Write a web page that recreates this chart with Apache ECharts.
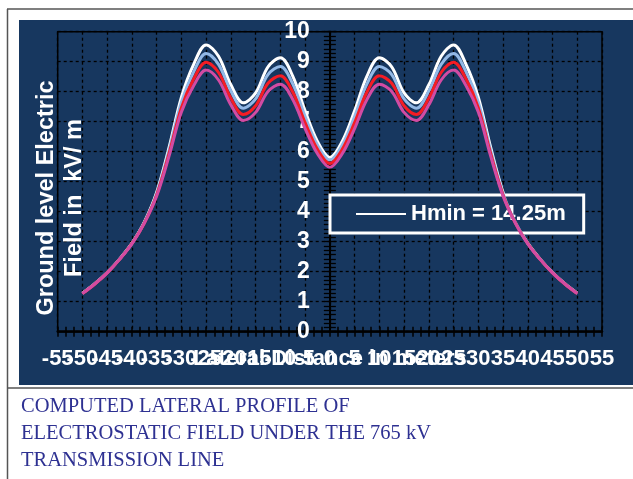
<!DOCTYPE html>
<html>
<head>
<meta charset="utf-8">
<script src="https://cdn.jsdelivr.net/npm/echarts@6/dist/echarts.min.js"></script>
<style>
html,body{margin:0;padding:0;background:#fff;}
#chart{width:633px;height:479px;}
</style>
</head>
<body>
<div id="chart"></div>
<script>
// Lateral distance (m)
const distance = [-50,-47.5,-45,-42.5,-40,-37.5,-35,-32.5,-30,-27.5,-25,-22.5,-20,-17.5,-15,-12.5,-10,-7.5,-5,-2.5,0,
  2.5,5,7.5,10,12.5,15,17.5,20,22.5,25,27.5,30,32.5,35,37.5,40,42.5,45,47.5,50];
// Ground level electric field (kV/m)
const fieldWhite = [1.28,1.6,1.97,2.42,2.95,3.65,4.65,6.14,7.82,8.92,9.56,9.18,8.23,7.63,7.96,8.83,9.13,8.52,7.36,6.34,5.81,
  6.34,7.36,8.52,9.13,8.83,7.96,7.63,8.23,9.18,9.56,8.92,7.82,6.14,4.65,3.65,2.95,2.42,1.97,1.6,1.28];
const fieldLightBlue = [1.28,1.6,1.97,2.42,2.94,3.64,4.61,6.04,7.65,8.67,9.27,8.91,8.02,7.45,7.76,8.57,8.84,8.26,7.17,6.22,5.72,
  6.22,7.17,8.26,8.84,8.57,7.76,7.45,8.02,8.91,9.27,8.67,7.65,6.04,4.61,3.64,2.94,2.42,1.97,1.6,1.28];
const fieldRed = [1.27,1.59,1.96,2.41,2.94,3.62,4.56,5.94,7.47,8.43,8.98,8.64,7.78,7.24,7.53,8.28,8.53,7.99,6.97,6.08,5.61,
  6.08,6.97,7.99,8.53,8.28,7.53,7.24,7.78,8.64,8.98,8.43,7.47,5.94,4.56,3.62,2.94,2.41,1.96,1.59,1.27];
const fieldMagenta = [1.27,1.59,1.96,2.41,2.93,3.61,4.52,5.85,7.32,8.21,8.72,8.39,7.56,7.04,7.31,8.01,8.25,7.74,6.77,5.93,5.48,
  5.93,6.77,7.74,8.25,8.01,7.31,7.04,7.56,8.39,8.72,8.21,7.32,5.85,4.52,3.61,2.93,2.41,1.96,1.59,1.27];
const seriesNames = ['Hmin = 14.25m','Series 2','Series 3','Series 4'];
const seriesColors = ['#ffffff','#92b8e6','#f51c24','#d24ba3'];
const captionLines = ['COMPUTED LATERAL PROFILE OF','ELECTROSTATIC FIELD UNDER THE 765 kV','TRANSMISSION LINE'];
const yAxisTitle = 'Ground level Electric\nField in  kV/ m';
const xAxisTitle = 'Lateral Distance in meters';

const BLUE = '#17375f';
const labelFont = {color:'#fff', fontSize:22, fontWeight:'bold', fontFamily:'Liberation Sans'};
const allData = [fieldWhite, fieldLightBlue, fieldRed, fieldMagenta];

const GL = 57.7, GR = 31, GT = 31.7, GB = 147.3;
const PX_PER_M = (633 - GL - GR) / 110;
const Y_OFFSET = -55 * PX_PER_M; // move y axis from grid left to x = 0

const chart = echarts.init(document.getElementById('chart'), null, {renderer:'canvas'});
const tickStyle = {color:'#000', width:1.5};
const hiddenAxisParts = {axisLine:{show:false, onZero:false}, axisTick:{show:false}, minorTick:{show:false}, splitLine:{show:false}};
chart.setOption({
  animation:false,
  backgroundColor:'#ffffff',
  grid:[
    {left:GL, right:GR, top:GT, bottom:GB, show:true, borderColor:'#000', borderWidth:1.5, backgroundColor:'transparent'},
    {left:GL + 5*PX_PER_M, right:GR + 5*PX_PER_M, top:GT, bottom:GB, show:false}
  ],
  graphic:[
    {type:'rect', z:-10, shape:{x:19, y:20, width:614, height:365}, style:{fill:BLUE}},
    {type:'line', z:-9, shape:{x1:7, y1:9, x2:633, y2:9}, style:{stroke:'#555', lineWidth:1.5}},
    {type:'line', z:-9, shape:{x1:7.5, y1:9, x2:7.5, y2:479}, style:{stroke:'#555', lineWidth:1.5}},
    {type:'line', z:-9, shape:{x1:7, y1:388, x2:633, y2:388}, style:{stroke:'#555', lineWidth:1.5}},
    {type:'text', z:5, x:61, y:198, rotation:Math.PI/2,
      style:{text:yAxisTitle, fill:'#fff', font:'bold 23.5px "Liberation Sans"', align:'center', verticalAlign:'middle', lineHeight:28}},
    ...captionLines.map((t,i)=>({type:'text', z:5, x:21, y:407+i*27,
      style:{text:t, fill:'#2e3192', font:'20.5px "Liberation Serif"', align:'left', verticalAlign:'middle'}}))
  ],
  legend:{
    data:[seriesNames[0]], left:330, top:195, orient:'horizontal',
    backgroundColor:BLUE, borderColor:'#fff', borderWidth:3, borderRadius:0,
    padding:[8,18,8,26], itemWidth:50, itemHeight:2, icon:'rect',
    textStyle:labelFont
  },
  xAxis:[
    { // main axis: line, ticks, grid lines, name
      gridIndex:0, type:'value', min:-55, max:55, interval:5,
      name:xAxisTitle, nameLocation:'middle', nameGap:16, nameMoveOverlap:false, nameTextStyle:labelFont,
      axisLine:{onZero:false, lineStyle:{color:'#000', width:2.5}},
      axisTick:{show:true, length:5, lineStyle:tickStyle},
      minorTick:{show:true, splitNumber:3, length:5, lineStyle:tickStyle},
      axisLabel:{show:false},
      splitLine:{show:true, lineStyle:{color:'#000', width:1.3, type:[3,3]}}
    },
    { // inner half of the crossing ticks
      gridIndex:0, type:'value', min:-55, max:55, interval:5, position:'bottom',
      axisLine:{show:false, onZero:false},
      axisTick:{show:true, inside:true, length:5, lineStyle:tickStyle},
      minorTick:{show:true, splitNumber:3, length:5, lineStyle:tickStyle},
      axisLabel:{show:false}, splitLine:{show:false}
    },
    Object.assign({ // labels -55, -45, ... 55
      gridIndex:0, type:'value', min:-55, max:55, interval:10, position:'bottom',
      axisLabel:Object.assign({margin:16, showMinLabel:true, showMaxLabel:true, hideOverlap:false}, labelFont)
    }, hiddenAxisParts),
    Object.assign({ // labels -50, -40, ... 50
      gridIndex:1, type:'value', min:-50, max:50, interval:10, position:'bottom',
      axisLabel:Object.assign({margin:16, showMinLabel:true, showMaxLabel:true, hideOverlap:false}, labelFont)
    }, hiddenAxisParts)
  ],
  yAxis:[
    {
      gridIndex:0, type:'value', min:0, max:10, interval:1, position:'left', offset:Y_OFFSET,
      axisLine:{show:true, onZero:false, lineStyle:{color:'#000', width:2}},
      axisTick:{show:true, length:6, lineStyle:{color:'#000', width:1.3}},
      minorTick:{show:true, splitNumber:7, length:6, lineStyle:{color:'#000', width:1.3}},
      axisLabel:Object.assign({margin:20, showMinLabel:true, showMaxLabel:true}, labelFont, {fontSize:23}),
      splitLine:{show:true, lineStyle:{color:'#000', width:1.3, type:[3,3]}}
    },
    {
      gridIndex:0, type:'value', min:0, max:10, interval:1, position:'left', offset:Y_OFFSET,
      axisLine:{show:false, onZero:false},
      axisTick:{show:true, inside:true, length:6, lineStyle:{color:'#000', width:1.3}},
      minorTick:{show:true, splitNumber:7, length:6, lineStyle:{color:'#000', width:1.3}},
      axisLabel:{show:false}, splitLine:{show:false}
    },
    Object.assign({gridIndex:1, type:'value', min:0, max:10, show:false}, hiddenAxisParts)
  ],
  series:allData.map((vals,k)=>({
    name:seriesNames[k], type:'line', xAxisIndex:0, yAxisIndex:0,
    data:distance.map((d,i)=>[d, vals[i]]),
    showSymbol:false, symbol:'none', smooth:0.35,
    color:seriesColors[k], itemStyle:{color:seriesColors[k]},
    lineStyle:{color:seriesColors[k], width:3},
    z:3+k
  }))
});
</script>
</body>
</html>
